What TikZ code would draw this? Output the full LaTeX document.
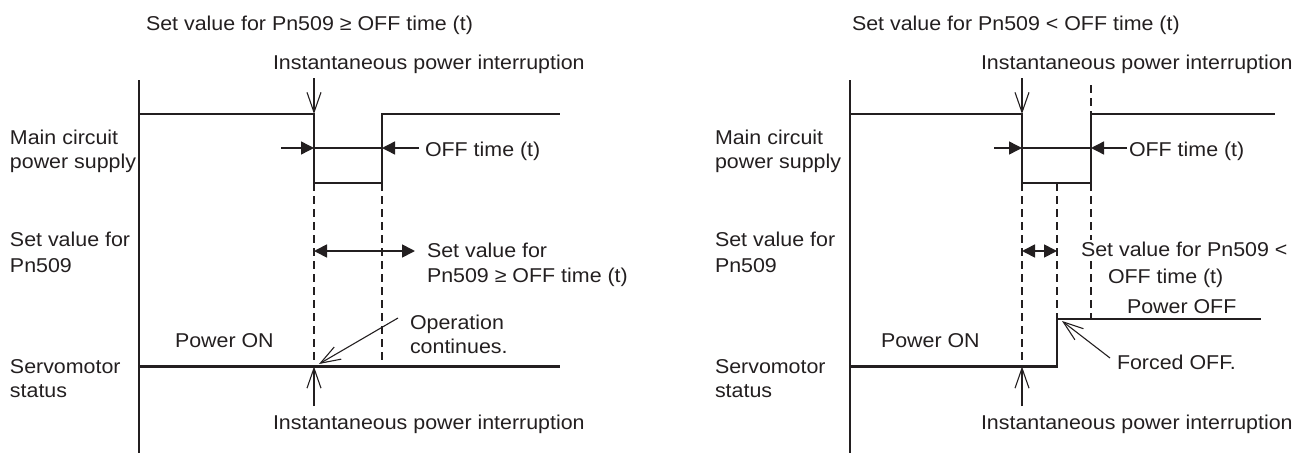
\documentclass[tikz,border=0pt]{standalone}
\usepackage{fontspec}
\setmainfont[FakeStretch=1.07]{Liberation Sans}
\usetikzlibrary{arrows.meta}
\definecolor{ink}{RGB}{35,31,32}
\begin{document}
\begin{tikzpicture}[x=0.5pt,y=-0.5pt,
  lbl/.style={anchor=base west,inner sep=0pt,outer sep=0pt,text=ink,font=\fontsize{10pt}{12pt}\selectfont},
  sig/.style={draw=ink,line width=1.2pt,line join=miter},
  axisl/.style={draw=ink,line width=1.1pt},
  dashl/.style={draw=ink,line width=0.7pt,dash pattern=on 4pt off 2.5pt},
  openarr/.style={draw=ink,line width=0.55pt,-{Straight Barb[length=10pt,width=7pt,line width=0.55pt]}},
  fillarr/.style={draw=ink,line width=0.7pt,-{Triangle[length=6.5pt,width=6.5pt]}},
  dblarr/.style={draw=ink,line width=0.85pt,{Triangle[length=6.5pt,width=6.5pt]}-{Triangle[length=6.5pt,width=6.5pt]}},
  midl/.style={draw=ink,line width=0.9pt}]
\useasboundingbox (0,0) rectangle (1295,455);

% ================= LEFT PANEL: signals =================
\coordinate (La1) at (139,80);
\coordinate (La2) at (139,453);
\draw[axisl] (La1) -- (La2);

\coordinate (Lm1) at (139,114);
\coordinate (Lm2) at (314,114);
\coordinate (Lm3) at (314,183);
\coordinate (Lm4) at (382,183);
\coordinate (Lm5) at (382,114);
\coordinate (Lm6) at (560,114);
\draw[sig] (Lm1) -- (Lm2) -- (Lm3) -- (Lm4) -- (Lm5) -- (Lm6);

\coordinate (Ld0) at (314,78);
\draw[openarr] (Ld0) -- (Lm2);

\coordinate (Lo1) at (281,148);
\coordinate (Lo2) at (314,148);
\coordinate (Lo3) at (382,148);
\coordinate (Lo4) at (419,148);
\draw[fillarr] (Lo1) -- (Lo2);
\draw[midl] (Lo2) -- (Lo3);
\draw[fillarr] (Lo4) -- (Lo3);

\coordinate (Ls1) at (139,366.5);
\coordinate (Ls2) at (314,366.5);
\coordinate (Ls3) at (382,366.5);
\coordinate (Ls4) at (560,366.5);
\draw[dashl] (Lm3) -- (Ls2);
\draw[dashl] (Lm4) -- (Ls3);
\draw[sig] (Ls1) -- (Ls4);

\coordinate (Lv1) at (314,251);
\coordinate (Lv2) at (415,251);
\draw[dblarr] (Lv1) -- (Lv2);

\coordinate (Lc1) at (398,318);
\coordinate (Lc2) at (319,364);
\draw[openarr] (Lc1) -- (Lc2);

\coordinate (Lu0) at (314,406);
\draw[openarr] (Lu0) -- (Ls2);

% ================= LEFT PANEL: texts =================
\node[lbl] (Lt) at (146,31) {Set value for Pn509 ≥ OFF time (t)};
\node[lbl] (Lii) at (273,69) {Instantaneous power interruption};
\node[lbl] (Lmc1) at (10,144) {Main circuit};
\node[lbl] (Lmc2) at (10,168) {power supply};
\node[lbl] (Lsv1) at (10,246.5) {Set value for};
\node[lbl] (Lsv2) at (10,272.5) {Pn509};
\node[lbl] (Lss1) at (10,373) {Servomotor};
\node[lbl] (Lss2) at (10,397) {status};
\node[lbl] (Loff) at (425,156) {OFF time (t)};
\node[lbl] (Lset1) at (427,257) {Set value for};
\node[lbl] (Lset2) at (427,282.5) {Pn509 ≥ OFF time (t)};
\node[lbl] (Lon) at (175,347) {Power ON};
\node[lbl] (Lop1) at (410,329.5) {Operation};
\node[lbl] (Lop2) at (410,353) {continues.};
\node[lbl] (Lib) at (273,429) {Instantaneous power interruption};

% ================= RIGHT PANEL: signals =================
\coordinate (Ra1) at (850,80);
\coordinate (Ra2) at (850,453);
\draw[axisl] (Ra1) -- (Ra2);

\coordinate (Rm1) at (850,114);
\coordinate (Rm2) at (1022,114);
\coordinate (Rm3) at (1022,183);
\coordinate (Rm4) at (1091,183);
\coordinate (Rm5) at (1091,114);
\coordinate (Rm6) at (1275,114);
\coordinate (Rk) at (1057,183);
\coordinate (Rtop) at (1091,85);

\coordinate (Rd0) at (1022,78);
\draw[openarr] (Rd0) -- (Rm2);

\coordinate (Rs1) at (850,366.5);
\coordinate (Rs2) at (1022,366.5);
\coordinate (Rs3) at (1057,366.5);
\coordinate (Rs4) at (1057,319);
\coordinate (Rs5) at (1091,319);
\coordinate (Rs6) at (1261,319);

\draw[dashl] (Rtop) -- (Rm5);
\draw[dashl] (Rm3) -- (Rs2);
\draw[dashl] (Rk) -- (Rs4);
\draw[dashl] (Rm4) -- (Rs5);

\draw[sig] (Rm1) -- (Rm2) -- (Rm3) -- (Rm4) -- (Rm5) -- (Rm6);
\draw[sig] (Rs1) -- (Rs3) -- (Rs4) -- (Rs6);

\coordinate (Ro1) at (994,148);
\coordinate (Ro2) at (1022,148);
\coordinate (Ro3) at (1091,148);
\coordinate (Ro4) at (1127,148);
\draw[fillarr] (Ro1) -- (Ro2);
\draw[midl] (Ro2) -- (Ro3);
\draw[fillarr] (Ro4) -- (Ro3);

\coordinate (Rv1) at (1022,251);
\coordinate (Rv2) at (1057,251);
\draw[dblarr] (Rv1) -- (Rv2);

\coordinate (Rf1) at (1110,358);
\coordinate (Rf2) at (1062,321);
\draw[openarr] (Rf1) -- (Rf2);

\coordinate (Ru0) at (1022,406);
\draw[openarr] (Ru0) -- (Rs2);

% ================= RIGHT PANEL: texts =================
\node[lbl] (Rt) at (852,31) {Set value for Pn509 < OFF time (t)};
\node[lbl] (Rii) at (981,69) {Instantaneous power interruption};
\node[lbl] (Rmc1) at (715,144) {Main circuit};
\node[lbl] (Rmc2) at (715,168) {power supply};
\node[lbl] (Rsv1) at (715,246.5) {Set value for};
\node[lbl] (Rsv2) at (715,272.5) {Pn509};
\node[lbl] (Rss1) at (715,373) {Servomotor};
\node[lbl] (Rss2) at (715,397) {status};
\node[lbl] (Roff) at (1129,156) {OFF time (t)};
\node[lbl,fill=white,inner sep=1pt] (Rset1) at (1079,256) {Set value for Pn509 <};
\node[lbl] (Rset2) at (1108,283) {OFF time (t)};
\node[lbl] (Rpoff) at (1127,313) {Power OFF};
\node[lbl] (Ron) at (881,347) {Power ON};
\node[lbl] (Rfo) at (1117,369) {Forced OFF.};
\node[lbl] (Rib) at (981,429) {Instantaneous power interruption};
\end{tikzpicture}
\end{document}
